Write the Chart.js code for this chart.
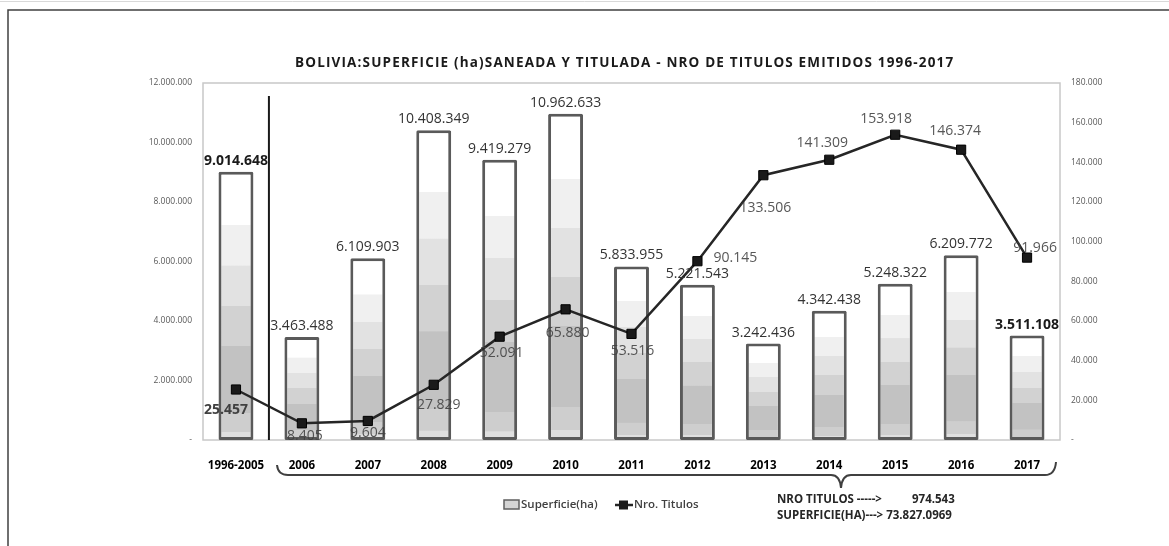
<!DOCTYPE html>
<html>
<head>
<meta charset="utf-8">
<script src="https://cdn.jsdelivr.net/npm/chart.js@4.4.1/dist/chart.umd.min.js"></script>
<style>
  html, body { margin: 0; padding: 0; background: #fff; }
  canvas { display: block; }
</style>
</head>
<body>
<canvas id="myChart" width="1169" height="546"></canvas>
<script>
const categories = ['1996-2005', '2006', '2007', '2008', '2009', '2010', '2011', '2012', '2013', '2014', '2015', '2016', '2017'];
const superficie = [9014648, 3463488, 6109903, 10408349, 9419279, 10962633, 5833955, 5221543, 3242436, 4342438, 5248322, 6209772, 3511108];
const titulos = [25457, 8405, 9604, 27829, 52091, 65880, 53516, 90145, 133506, 141309, 153918, 146374, 91966];
const leftTicks = [0, 2000000, 4000000, 6000000, 8000000, 10000000, 12000000];
const rightTicks = [0, 20000, 40000, 60000, 80000, 100000, 120000, 140000, 160000, 180000];
const totalTitulos = '974.543';
const totalSuperficie = '73.827.0969';

// label offsets for the line values (dx, dy from the point)
const lineLabelOffsets = [[-10, 21], [3, 13], [0, 12], [5, 20], [2, 16], [2, 24], [1, 17], [38, -3], [2, 33], [-7, -17], [-9, -16], [-6, -19], [8, -10]];

const fmt = n => n === 0 ? '-' : String(n).replace(/\B(?=(\d{3})+(?!\d))/g, '.');

// stepped grey bands, top to bottom
const bands = [
    [0.00, '#ffffff'], [0.20, '#f0f0f0'], [0.35, '#e2e2e2'], [0.50, '#d2d2d2'],
    [0.65, '#c2c2c2'], [0.90, '#cecece'], [0.97, '#dfdfdf']
];

function barFill(c) {
    const chart = c.chart;
    if (!chart.chartArea || c.type !== 'data') return '#d0d0d0';
    const y = chart.scales.y;
    const top = y.getPixelForValue(superficie[c.dataIndex]);
    const bottom = y.getPixelForValue(0);
    const g = chart.ctx.createLinearGradient(0, top, 0, bottom);
    for (let i = 0; i < bands.length; i++) {
        const end = i + 1 < bands.length ? bands[i + 1][0] : 1;
        g.addColorStop(bands[i][0], bands[i][1]);
        g.addColorStop(Math.max(bands[i][0], end - 0.001), bands[i][1]);
    }
    return g;
}

const extras = {
    id: 'extras',
    beforeDraw(chart) {
        const ctx = chart.ctx;
        ctx.save();
        ctx.fillStyle = '#fff';
        ctx.fillRect(0, 0, chart.width, chart.height);
        // faint top edge + outer frame
        ctx.strokeStyle = '#d9d9d9';
        ctx.lineWidth = 1;
        ctx.beginPath(); ctx.moveTo(0, 1.5); ctx.lineTo(chart.width, 1.5); ctx.stroke();
        ctx.strokeStyle = '#404040';
        ctx.lineWidth = 1.5;
        ctx.beginPath();
        ctx.moveTo(8, chart.height); ctx.lineTo(8, 10); ctx.lineTo(chart.width, 10);
        ctx.stroke();
        // plot border
        const a = chart.chartArea;
        ctx.strokeStyle = '#c8c8c8';
        ctx.lineWidth = 1.5;
        ctx.strokeRect(a.left, a.top, a.right - a.left, a.bottom - a.top);
        ctx.restore();
    },
    afterDatasetsDraw(chart) {
        const ctx = chart.ctx;
        const a = chart.chartArea;
        const xs = chart.scales.x;
        ctx.save();
        // separator between 1996-2005 and the yearly bars
        const sepX = (xs.getPixelForValue(0) + xs.getPixelForValue(1)) / 2;
        ctx.strokeStyle = '#1a1a1a';
        ctx.lineWidth = 2;
        ctx.beginPath(); ctx.moveTo(sepX, 96); ctx.lineTo(sepX, a.bottom); ctx.stroke();

        ctx.textAlign = 'center';
        ctx.textBaseline = 'middle';
        // bar value labels
        const bars = chart.getDatasetMeta(1).data;
        bars.forEach((el, i) => {
            const bold = i === 0 || i === bars.length - 1;
            ctx.font = (bold ? 'bold ' : '') + '14px "Open Sans"';
            ctx.fillStyle = bold ? '#1a1a1a' : '#333333';
            ctx.fillText(fmt(superficie[i]), el.x, el.y - 11);
        });
        // line value labels
        const pts = chart.getDatasetMeta(0).data;
        pts.forEach((el, i) => {
            const bold = i === 0;
            ctx.font = (bold ? 'bold ' : '') + '14px "Open Sans"';
            ctx.fillStyle = bold ? '#404040' : 'rgba(64,64,64,0.88)';
            const o = lineLabelOffsets[i];
            ctx.fillText(fmt(titulos[i]), el.x + o[0], el.y + o[1]);
        });
        ctx.restore();
    },
    afterDraw(chart) {
        const ctx = chart.ctx;
        ctx.save();
        // title
        const title = 'BOLIVIA:SUPERFICIE (ha)SANEADA Y TITULADA - NRO DE TITULOS EMITIDOS 1996-2017';
        ctx.font = 'bold 13.5px "Open Sans"';
        const w = ctx.measureText(title).width;
        const target = 659;
        if ('letterSpacing' in ctx) ctx.letterSpacing = Math.max(0, (target - w) / title.length).toFixed(2) + 'px';
        ctx.fillStyle = '#1a1a1a';
        ctx.textAlign = 'left';
        ctx.textBaseline = 'middle';
        ctx.fillText(title, 295, 63);
        if ('letterSpacing' in ctx) ctx.letterSpacing = '0px';

        // brace under 2006-2017
        ctx.strokeStyle = '#404040';
        ctx.lineWidth = 2;
        const bx0 = 277, bx1 = 1056, tip = 841, by = 475;
        ctx.beginPath();
        ctx.moveTo(bx0, 465);
        ctx.quadraticCurveTo(bx0 + 1, by, bx0 + 11, by);
        ctx.lineTo(tip - 10, by);
        ctx.quadraticCurveTo(tip - 1, by, tip, 488);
        ctx.quadraticCurveTo(tip + 1, by, tip + 10, by);
        ctx.lineTo(bx1 - 11, by);
        ctx.quadraticCurveTo(bx1 - 1, by, bx1, 462);
        ctx.stroke();

        // legend
        ctx.fillStyle = '#d4d4d4';
        ctx.strokeStyle = '#5f5f5f';
        ctx.lineWidth = 1.5;
        ctx.fillRect(504, 500, 15, 9);
        ctx.strokeRect(504, 500, 15, 9);
        ctx.strokeStyle = '#262626';
        ctx.lineWidth = 2.5;
        ctx.beginPath(); ctx.moveTo(615, 505); ctx.lineTo(633, 505); ctx.stroke();
        ctx.fillStyle = '#1a1a1a';
        ctx.fillRect(619, 500.5, 9, 9);
        ctx.font = '600 11.5px "Open Sans"';
        ctx.fillStyle = '#404040';
        ctx.textBaseline = 'middle';
        ctx.fillText('Superficie(ha)', 521, 505);
        ctx.fillText('Nro. Titulos', 634, 505);

        // totals
        ctx.font = 'bold 11.5px "Open Sans"';
        ctx.fillStyle = '#262626';
        ctx.fillText('NRO TITULOS ----->', 777, 500);
        ctx.fillText(totalTitulos, 912, 500);
        ctx.fillText('SUPERFICIE(HA)---> ' + totalSuperficie, 777, 516);
        ctx.restore();
    }
};

const ctx = document.getElementById('myChart').getContext('2d');

const myChart = new Chart(ctx, {
    type: 'bar',
    data: {
        labels: categories,
        datasets: [
            {
                type: 'line',
                label: 'Nro. Titulos',
                data: titulos,
                yAxisID: 'y1',
                order: 0,
                borderColor: '#262626',
                borderWidth: 2.5,
                pointStyle: 'rect',
                pointRadius: 6.5,
                pointBackgroundColor: '#1a1a1a',
                pointBorderColor: '#000',
                pointBorderWidth: 1,
                tension: 0
            },
            {
                label: 'Superficie(ha)',
                data: superficie,
                yAxisID: 'y',
                order: 1,
                backgroundColor: barFill,
                borderColor: '#5a5a5a',
                borderWidth: 3,
                borderSkipped: false,
                borderRadius: 1.5,
                barPercentage: 0.53,
                categoryPercentage: 1
            }
        ]
    },
    options: {
        responsive: false,
        animation: false,
        layout: { padding: { top: 83, left: 0, right: 0, bottom: 0 } },
        plugins: {
            legend: { display: false },
            tooltip: { enabled: false },
            title: { display: false }
        },
        scales: {
            x: {
                grid: { display: false },
                border: { display: false },
                ticks: {
                    color: '#000',
                    font: { family: 'Open Sans', size: 11.5, weight: 'bold' },
                    padding: 11,
                    maxRotation: 0
                },
                afterFit: s => { s.height = 106; }
            },
            y: {
                position: 'left',
                min: 0,
                max: 12000000,
                afterBuildTicks: s => { s.ticks = leftTicks.map(v => ({ value: v })); },
                grid: { display: false, drawTicks: false },
                border: { display: false },
                ticks: {
                    color: '#595959',
                    font: { family: 'Open Sans', size: 8.5 },
                    padding: 11,
                    callback: v => fmt(v)
                },
                afterFit: s => { s.width = 203; }
            },
            y1: {
                position: 'right',
                min: 0,
                max: 180000,
                afterBuildTicks: s => { s.ticks = rightTicks.map(v => ({ value: v })); },
                grid: { display: false, drawTicks: false },
                border: { display: false },
                ticks: {
                    color: '#595959',
                    font: { family: 'Open Sans', size: 8.5 },
                    padding: 11,
                    callback: v => fmt(v)
                },
                afterFit: s => { s.width = 109; }
            }
        }
    },
    plugins: [extras]
});
</script>
</body>
</html>
